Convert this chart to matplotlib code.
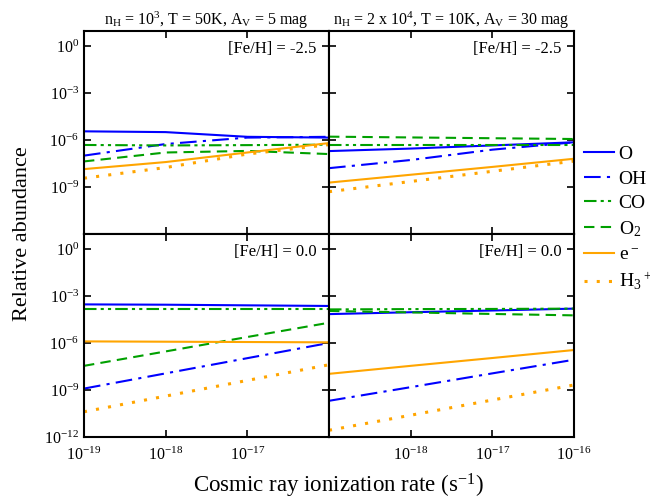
import numpy as np
import matplotlib
matplotlib.use("Agg")
import matplotlib.pyplot as plt

plt.rcParams['font.family'] = ['Liberation Serif', 'DejaVu Serif']
plt.rcParams['mathtext.fontset'] = 'custom'
plt.rcParams['mathtext.rm'] = 'Liberation Serif'
plt.rcParams['mathtext.default'] = 'regular'
plt.rcParams['axes.unicode_minus'] = False

# cosmic ray ionization rate (s^-1)
zeta = [1e-19, 1e-18, 1e-17, 1e-16]

# log10 relative abundances
# top-left: nH=1e3, T=50K, Av=5, [Fe/H]=-2.5
tl_O   = [-5.45, -5.5, -5.8, -5.85]
tl_OH  = [-7.0, -6.26, -5.85, -5.8]
tl_CO  = [-6.32, -6.35, -6.33, -6.3]
tl_O2  = [-7.37, -6.8, -6.7, -6.9]
tl_e   = [-7.86, -7.41, -6.8, -6.2]
tl_H3  = [-8.44, -7.76, -6.9, -6.3]

# top-right: nH=2e4, T=10K, Av=30, [Fe/H]=-2.5
tr_O   = [-6.71, -6.55, -6.35, -6.15]
tr_OH  = [-7.8, -7.28, -6.62, -6.15]
tr_CO  = [-6.3, -6.3, -6.3, -6.3]
tr_O2  = [-5.79, -5.84, -5.89, -5.94]
tr_e   = [-8.72, -8.22, -7.72, -7.2]
tr_H3  = [-9.3, -8.65, -8.0, -7.35]

# bottom-left: [Fe/H]=0.0
bl_O   = [-3.54, -3.56, -3.6, -3.64]
bl_OH  = [-8.91, -7.94, -6.97, -6.0]
bl_CO  = [-3.86, -3.86, -3.86, -3.86]
bl_O2  = [-7.46, -6.54, -5.62, -4.71]
bl_e   = [-5.9, -5.92, -5.94, -5.96]
bl_H3  = [-10.39, -9.39, -8.39, -7.39]

# bottom-right
br_O   = [-4.16, -4.04, -3.93, -3.81]
br_OH  = [-9.69, -8.82, -7.94, -7.07]
br_CO  = [-3.86, -3.84, -3.83, -3.81]
br_O2  = [-3.96, -4.05, -4.15, -4.24]
br_e   = [-7.97, -7.46, -6.96, -6.45]
br_H3  = [-11.57, -10.61, -9.64, -8.68]

species = ['O', 'OH', 'CO', 'O$_2$', 'e$^-$', 'H$_3$$^+$']
colors = ['#0000ff', '#0000ff', '#00a000', '#00a000', '#ffa500', '#ffa500']
styles = ['-', (0, (8, 3, 1.5, 3)), (0, (6, 2, 1.5, 2, 1.5, 2)), (0, (5, 3)), '-', (0, (1, 3))]
widths = [1.5, 1.5, 1.5, 1.5, 1.5, 2.2]

panels = [[tl_O, tl_OH, tl_CO, tl_O2, tl_e, tl_H3],
          [tr_O, tr_OH, tr_CO, tr_O2, tr_e, tr_H3],
          [bl_O, bl_OH, bl_CO, bl_O2, bl_e, bl_H3],
          [br_O, br_OH, br_CO, br_O2, br_e, br_H3]]
feh = ['[Fe/H] = -2.5', '[Fe/H] = -2.5', '[Fe/H] = 0.0', '[Fe/H] = 0.0']
titles = ['n$_H$ = 10$^3$, T = 50K, A$_V$ = 5 mag',
          'n$_H$ = 2 x 10$^4$, T = 10K, A$_V$ = 30 mag']

fig, axes = plt.subplots(2, 2, figsize=(6.5, 5.04), dpi=100, sharex=True, sharey=True)
fig.subplots_adjust(left=0.1292, right=0.8831, top=0.9385, bottom=0.1329, hspace=0, wspace=0)

for k, ax in enumerate(axes.flat):
    for j, vals in enumerate(panels[k]):
        ax.plot(zeta, 10 ** np.array(vals), color=colors[j], ls=styles[j], lw=widths[j],
                label=species[j])
    ax.set_xscale('log')
    ax.set_yscale('log')
    ax.set_xlim(1e-19, 1e-16)
    ax.set_ylim(1e-12, 10 ** 0.95)
    ax.set_xticks([1e-19, 1e-18, 1e-17, 1e-16])
    ax.set_yticks([1e-12, 1e-9, 1e-6, 1e-3, 1e0])
    ax.minorticks_off()
    ax.tick_params(direction='in', length=5, width=1.2, top=True, right=True, labelsize=11.5)
    ax.tick_params(axis='x', pad=7)
    for s in ax.spines.values():
        s.set_linewidth(1.5)
    ax.text(0.95, 0.95, feh[k], transform=ax.transAxes, ha='right', va='top', fontsize=12)

axes[0, 0].set_title(titles[0], fontsize=11.5, pad=4)
axes[0, 1].set_title(titles[1], fontsize=11.5, pad=4)

# hide overlapping labels
axes[1, 0].get_xticklabels()[-1].set_visible(False)
axes[1, 1].get_xticklabels()[0].set_visible(False)
axes[0, 0].get_yticklabels()[0].set_visible(False)

fig.text(0.034, 0.536, 'Relative abundance', rotation=90, ha='center', va='center', fontsize=16)
fig.text(0.52, 0.036, 'Cosmic ray ionization rate (s$^{-1}$)', ha='center', va='center', fontsize=16.5)

handles, labels = axes[0, 0].get_legend_handles_labels()
fig.legend(handles, labels, loc='center left', bbox_to_anchor=(0.898, 0.566), frameon=False,
           fontsize=14, handlelength=1.55, handletextpad=0.25, labelspacing=0.36,
           borderpad=0, borderaxespad=0)

fig.savefig('out.png', dpi=100)
